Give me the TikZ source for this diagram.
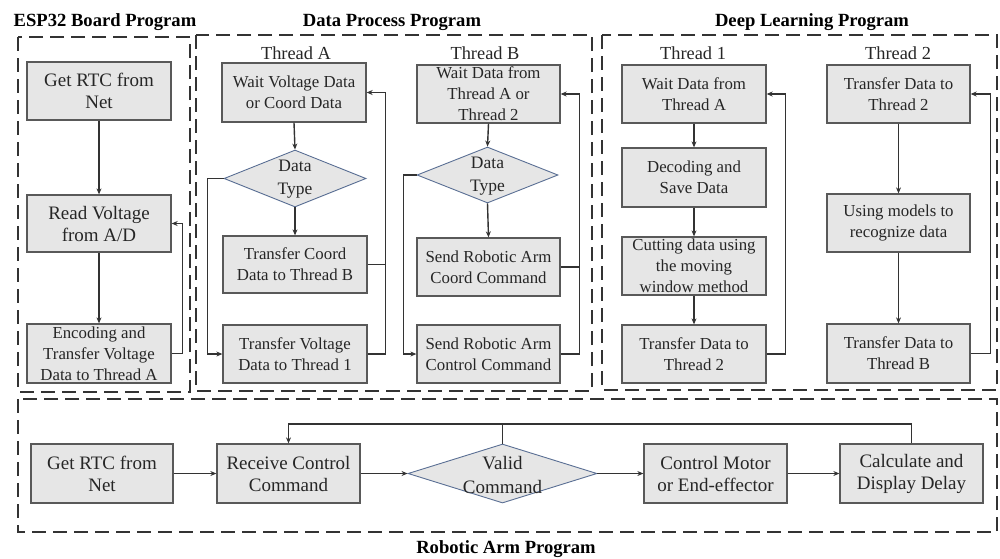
\documentclass[tikz,border=0pt]{standalone}
\usepackage{fontspec}
\setmainfont{Liberation Serif}
\usetikzlibrary{shapes.geometric,arrows.meta}
\definecolor{boxfill}{HTML}{E6E6E6}
\definecolor{boxline}{HTML}{595959}
\definecolor{lineclr}{HTML}{333333}
\definecolor{diamline}{HTML}{5A6F94}
\definecolor{txtclr}{HTML}{262626}
\newcommand{\bigtxt}{\fontsize{19}{22}\selectfont}
\newcommand{\smalltxt}{\fontsize{16.8}{21}\selectfont}
\newcommand{\thrtxt}{\fontsize{18.4}{22}\selectfont}
\newcommand{\ttltxt}{\fontsize{18.6}{22}\selectfont\bfseries}
\begin{document}
\begin{tikzpicture}[x=1pt,y=-1pt,
  box/.style={draw=boxline, fill=boxfill, line width=1.3pt, rectangle, inner sep=0pt,
    align=center, text=txtclr, minimum width=144pt, minimum height=58pt, font=\smalltxt},
  bigbox/.style={box, font=\bigtxt},
  dec/.style={draw=diamline, fill=boxfill, line width=0.9pt, diamond, inner sep=0pt},
  dectext/.style={align=center, text=txtclr, inner sep=0pt},
  thr/.style={font=\thrtxt, text=txtclr, inner sep=0pt},
  ttl/.style={font=\ttltxt, text=black, inner sep=0pt},
  group/.style={draw=lineclr, line width=2.2pt, dash pattern=on 14pt off 7pt},
  conn/.style={draw=lineclr, line width=1.4pt},
  arr/.style={conn, -{Stealth[length=6pt,width=5pt]}}
]
\useasboundingbox (0,0) rectangle (1000,558);

% group frames
\draw[group] (18,37) rectangle (190,392);
\draw[group] (196,35) rectangle (592,391);
\draw[group] (602,35) rectangle (997,390);
\draw[group] (18,399) rectangle (997,532);

% titles
\node[ttl] (t1) at (105,22) {ESP32 Board Program};
\node[ttl] (t2) at (392,22) {Data Process Program};
\node[ttl] (t3) at (812,22) {Deep Learning Program};
\node[ttl] (t4) at (506,549) {Robotic Arm Program};

% ESP32
\node[bigbox] (e1) at (99,91) {Get RTC from\\Net};
\node[bigbox, minimum height=57pt] (e2) at (99,223.5) {Read Voltage\\from A/D};
\node[box, minimum height=59pt] (e3) at (99,353.5) {Encoding and\\Transfer Voltage\\Data to Thread A};
\draw[arr] (e1.south) -- (e2.north);
\draw[arr] (e2.south) -- (e3.north);
\draw[arr] (e3.east) -- ++(11,0) |- (e2.east);

% Data process: thread A
\node[thr] (tha) at (296,53) {Thread A};
\node[box, minimum height=59pt] (a1) at (294,92.5) {Wait Voltage Data\\or Coord Data};
\node[dec, minimum width=142pt, minimum height=57pt] (ad) at (295,178.5) {};
\node[dectext, font=\fontsize{17.5}{23}\selectfont] (adt) at (295,179) {Data\\Type};
\node[box, minimum height=57pt] (a2) at (295,264.5) {Transfer Coord\\Data to Thread B};
\node[box] (a3) at (295,354) {Transfer Voltage\\Data to Thread 1};
\draw[arr] (a1.south) -- (ad.north);
\draw[arr] (ad.south) -- (a2.north);
\draw[arr] (ad.west) -- ++(-16,0) |- (a3.west);
\draw[conn] (a2.east) -- ++(18,0);
\draw[arr] (a3.east) -- ++(18,0) |- (a1.east);

% Data process: thread B
\node[thr] (thb) at (485,53) {Thread B};
\node[box, minimum width=143pt] (b1) at (488.5,94) {Wait Data from\\Thread A or\\Thread 2};
\node[dec, minimum width=141pt, minimum height=56pt] (bd) at (487.5,175) {};
\node[dectext, font=\fontsize{17.5}{23}\selectfont] (bdt) at (487.5,176) {Data\\Type};
\node[box, minimum width=143pt] (b2) at (488.5,267) {Send Robotic Arm\\Coord Command};
\node[box, minimum width=143pt] (b3) at (488.5,354) {Send Robotic Arm\\Control Command};
\draw[arr] (b1.south) -- (bd.north);
\draw[arr] (bd.south) -- (b2.north);
\draw[arr] (bd.west) -- ++(-13,0) |- (b3.west);
\draw[conn] (b2.east) -- ++(19,0);
\draw[arr] (b3.east) -- ++(19,0) |- (b1.east);

% Deep learning: thread 1
\node[thr] (th1) at (693,53) {Thread 1};
\node[box] (c1) at (694,94) {Wait Data from\\Thread A};
\node[box, minimum height=59pt] (c2) at (694,177.5) {Decoding and\\Save Data};
\node[box] (c3) at (694,266) {Cutting data using\\the moving\\window method};
\node[box] (c4) at (694,354) {Transfer Data to\\Thread 2};
\draw[arr] (c1.south) -- (c2.north);
\draw[arr] (c2.south) -- (c3.north);
\draw[arr] (c3.south) -- (c4.north);
\draw[arr] (c4.east) -- ++(19,0) |- (c1.east);

% Deep learning: thread 2
\node[thr] (th2) at (898,53) {Thread 2};
\node[box, minimum width=143pt] (d1) at (898.5,94) {Transfer Data to\\Thread 2};
\node[box, minimum width=143pt] (d2) at (898.5,223) {Using models to\\recognize data};
\node[box, minimum width=143pt, minimum height=59pt] (d3) at (898.5,353.5) {Transfer Data to\\Thread B};
\draw[arr] (d1.south) -- (d2.north);
\draw[arr] (d2.south) -- (d3.north);
\draw[arr] (d3.east) -- ++(20,0) |- (d1.east);

% Robotic arm
\node[bigbox, minimum width=142pt, minimum height=59pt] (r1) at (102,473.5) {Get RTC from\\Net};
\node[bigbox, minimum width=143pt, minimum height=59pt] (r2) at (288.5,473.5) {Receive Control\\Command};
\node[dec, minimum width=189pt, minimum height=59pt] (rd) at (502.5,473.5) {};
\node[dectext, font=\fontsize{19}{24}\selectfont] (rdt) at (502.5,475) {Valid\\Command};
\node[bigbox, minimum width=143pt, minimum height=59pt] (r4) at (715.5,473.5) {Control Motor\\or End-effector};
\node[bigbox, minimum width=143pt, minimum height=59pt] (r5) at (911.5,473.5) {Calculate and\\Display Delay};
\coordinate (rtop) at (288.5,424);
\draw[arr] (r1.east) -- (r2.west);
\draw[arr] (r2.east) -- (rd.west);
\draw[arr] (rd.east) -- (r4.west);
\draw[arr] (r4.east) -- (r5.west);
\draw[arr] (r5.north) |- (rtop) -- (r2.north);
\draw[conn] (rd.north) -- (rd.north |- rtop);
\end{tikzpicture}
\end{document}
